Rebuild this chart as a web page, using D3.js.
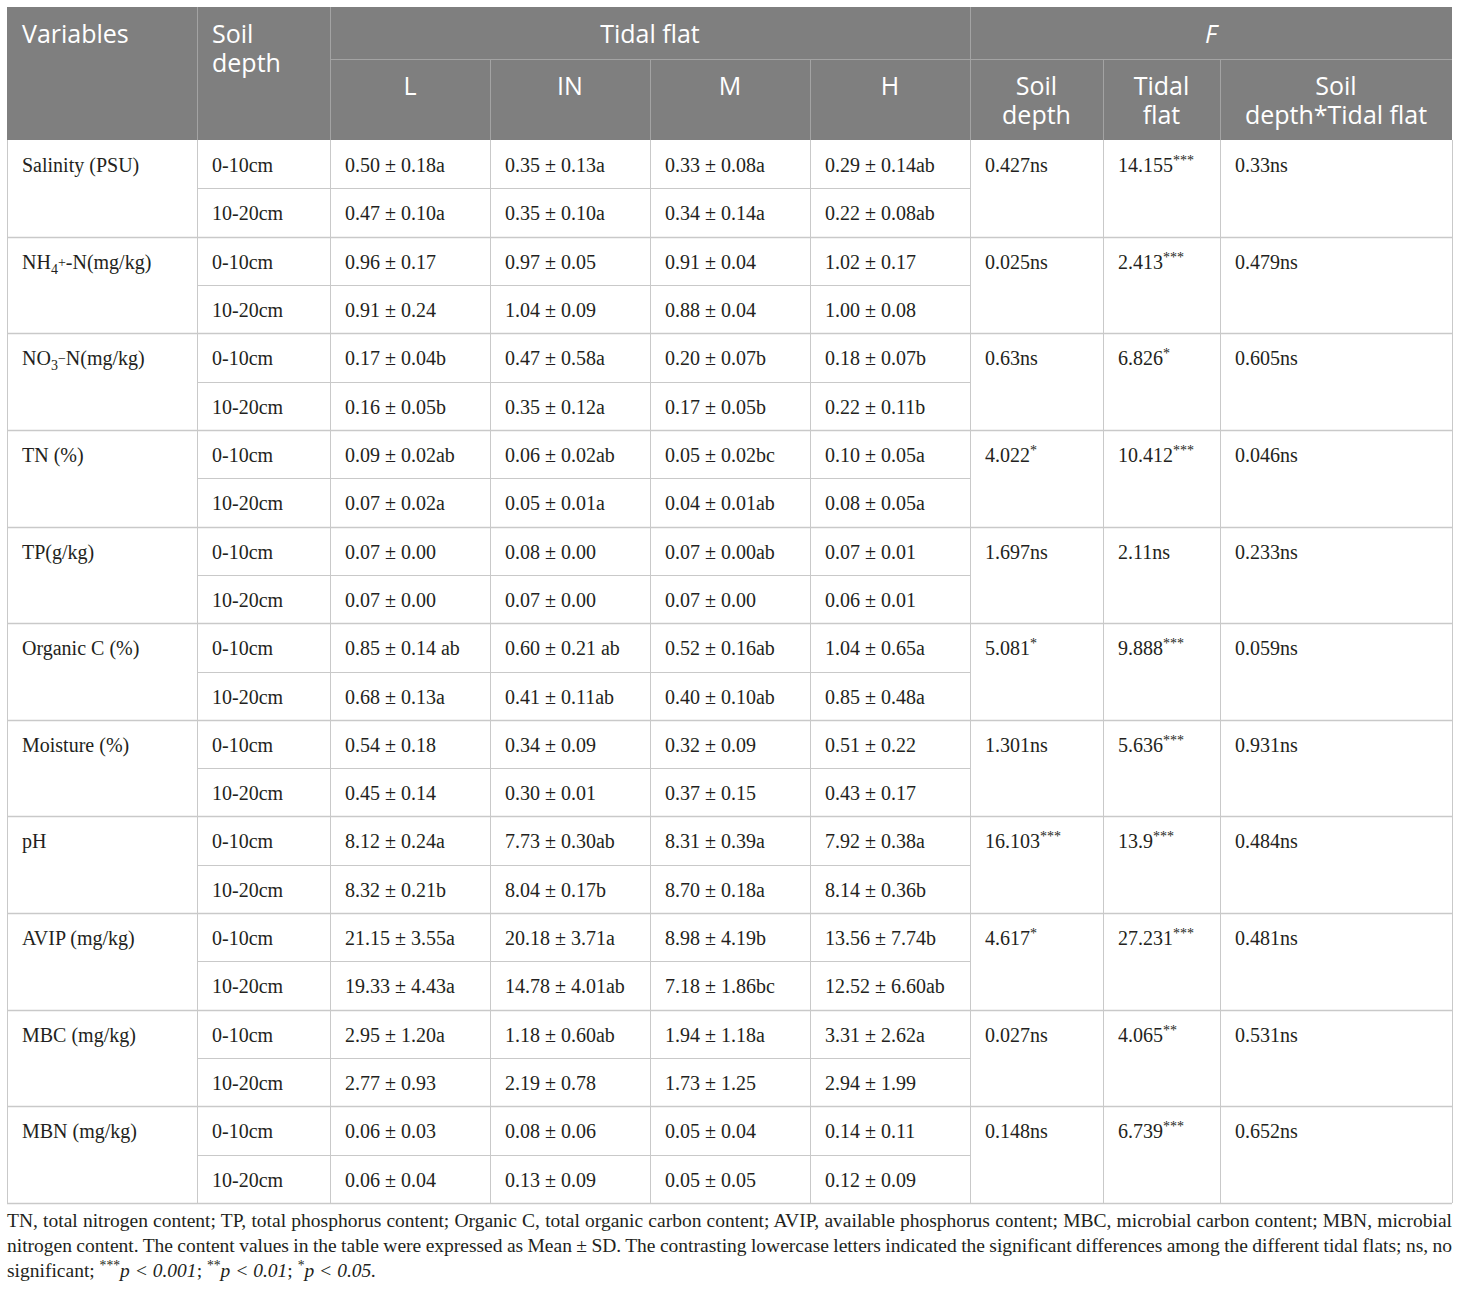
<!DOCTYPE html>
<html>
<head>
<meta charset="utf-8">
<script src="https://cdn.jsdelivr.net/npm/d3@7"></script>
<style>
  body { margin: 0; background: #fff; }
  svg { display: block; }
</style>
</head>
<body>
<div id="table"></div>
<script>
var variables = [
  [{t: "Salinity (PSU)"}],
  [{t: "NH"}, {t: "4", sub: true}, {t: "+", sup: true}, {t: "-N(mg/kg)"}],
  [{t: "NO"}, {t: "3", sub: true}, {t: "\u2212", sup: true}, {t: "N(mg/kg)"}],
  [{t: "TN (%)"}],
  [{t: "TP(g/kg)"}],
  [{t: "Organic C (%)"}],
  [{t: "Moisture (%)"}],
  [{t: "pH"}],
  [{t: "AVIP (mg/kg)"}],
  [{t: "MBC (mg/kg)"}],
  [{t: "MBN (mg/kg)"}]
];
var depths = ["0-10cm", "10-20cm"];
var flats = ["L", "IN", "M", "H"];

var valL = ["0.50 ± 0.18a", "0.47 ± 0.10a", "0.96 ± 0.17", "0.91 ± 0.24", "0.17 ± 0.04b", "0.16 ± 0.05b",
  "0.09 ± 0.02ab", "0.07 ± 0.02a", "0.07 ± 0.00", "0.07 ± 0.00", "0.85 ± 0.14 ab", "0.68 ± 0.13a",
  "0.54 ± 0.18", "0.45 ± 0.14", "8.12 ± 0.24a", "8.32 ± 0.21b", "21.15 ± 3.55a", "19.33 ± 4.43a",
  "2.95 ± 1.20a", "2.77 ± 0.93", "0.06 ± 0.03", "0.06 ± 0.04"];
var valIN = ["0.35 ± 0.13a", "0.35 ± 0.10a", "0.97 ± 0.05", "1.04 ± 0.09", "0.47 ± 0.58a", "0.35 ± 0.12a",
  "0.06 ± 0.02ab", "0.05 ± 0.01a", "0.08 ± 0.00", "0.07 ± 0.00", "0.60 ± 0.21 ab", "0.41 ± 0.11ab",
  "0.34 ± 0.09", "0.30 ± 0.01", "7.73 ± 0.30ab", "8.04 ± 0.17b", "20.18 ± 3.71a", "14.78 ± 4.01ab",
  "1.18 ± 0.60ab", "2.19 ± 0.78", "0.08 ± 0.06", "0.13 ± 0.09"];
var valM = ["0.33 ± 0.08a", "0.34 ± 0.14a", "0.91 ± 0.04", "0.88 ± 0.04", "0.20 ± 0.07b", "0.17 ± 0.05b",
  "0.05 ± 0.02bc", "0.04 ± 0.01ab", "0.07 ± 0.00ab", "0.07 ± 0.00", "0.52 ± 0.16ab", "0.40 ± 0.10ab",
  "0.32 ± 0.09", "0.37 ± 0.15", "8.31 ± 0.39a", "8.70 ± 0.18a", "8.98 ± 4.19b", "7.18 ± 1.86bc",
  "1.94 ± 1.18a", "1.73 ± 1.25", "0.05 ± 0.04", "0.05 ± 0.05"];
var valH = ["0.29 ± 0.14ab", "0.22 ± 0.08ab", "1.02 ± 0.17", "1.00 ± 0.08", "0.18 ± 0.07b", "0.22 ± 0.11b",
  "0.10 ± 0.05a", "0.08 ± 0.05a", "0.07 ± 0.01", "0.06 ± 0.01", "1.04 ± 0.65a", "0.85 ± 0.48a",
  "0.51 ± 0.22", "0.43 ± 0.17", "7.92 ± 0.38a", "8.14 ± 0.36b", "13.56 ± 7.74b", "12.52 ± 6.60ab",
  "3.31 ± 2.62a", "2.94 ± 1.99", "0.14 ± 0.11", "0.12 ± 0.09"];

// F values: [number, significance]
var fDepth = [["0.427", "ns"], ["0.025", "ns"], ["0.63", "ns"], ["4.022", "*"], ["1.697", "ns"], ["5.081", "*"],
  ["1.301", "ns"], ["16.103", "***"], ["4.617", "*"], ["0.027", "ns"], ["0.148", "ns"]];
var fFlat = [["14.155", "***"], ["2.413", "***"], ["6.826", "*"], ["10.412", "***"], ["2.11", "ns"], ["9.888", "***"],
  ["5.636", "***"], ["13.9", "***"], ["27.231", "***"], ["4.065", "**"], ["6.739", "***"]];
var fInter = [["0.33", "ns"], ["0.479", "ns"], ["0.605", "ns"], ["0.046", "ns"], ["0.233", "ns"], ["0.059", "ns"],
  ["0.931", "ns"], ["0.484", "ns"], ["0.481", "ns"], ["0.531", "ns"], ["0.652", "ns"]];

var footLines = [
  [{t: "TN, total nitrogen content; TP, total phosphorus content; Organic C, total organic carbon content; AVIP, available phosphorus content; MBC, microbial carbon content; MBN, microbial"}],
  [{t: "nitrogen content. The content values in the table were expressed as Mean ± SD. The contrasting lowercase letters indicated the significant differences among the different tidal flats; ns, no"}],
  [{t: "significant; "}, {t: "***", sup: true}, {t: "p < 0.001", it: true}, {t: "; "}, {t: "**", sup: true},
   {t: "p < 0.01", it: true}, {t: "; "}, {t: "*", sup: true}, {t: "p < 0.05.", it: true}]
];

// --- layout ---
var W = 1460, H = 1290;
var left = 7, right = 1452, top0 = 7, hdrMid = 59, bodyTop = 140, bodyBot = 1203;
var colEdges = [7, 197, 330, 490, 650, 810, 970, 1103, 1220, 1452];
var pad = 15;
var headGray = "#7f7f7f", lineCol = "#c9c9c9", hdrLine = "#a3a3a3";
var serif = "'Liberation Serif', 'Times New Roman', serif";
var sans = "'Open Sans', 'Noto Sans', sans-serif";

var svg = d3.select("#table").append("svg")
  .attr("width", W).attr("height", H);

var rowY = d3.scaleBand().domain(d3.range(22)).range([bodyTop, bodyBot]);
var groupY = d3.scaleBand().domain(d3.range(11)).range([bodyTop, bodyBot]);

// header background
svg.append("rect")
  .attr("x", left).attr("y", top0)
  .attr("width", right - left).attr("height", bodyTop - top0)
  .attr("fill", headGray);

// header lines
var hl = svg.append("g").attr("stroke", hdrLine).attr("stroke-width", 1);
hl.append("line").attr("x1", colEdges[2]).attr("x2", right).attr("y1", hdrMid + 0.5).attr("y2", hdrMid + 0.5);
[1, 2, 6].forEach(function(i) {
  hl.append("line").attr("x1", colEdges[i] + 0.5).attr("x2", colEdges[i] + 0.5).attr("y1", top0).attr("y2", bodyTop);
});
[3, 4, 5, 7, 8].forEach(function(i) {
  hl.append("line").attr("x1", colEdges[i] + 0.5).attr("x2", colEdges[i] + 0.5).attr("y1", hdrMid).attr("y2", bodyTop);
});

// header text
var ht = svg.append("g").attr("font-family", sans).attr("font-size", "25px").attr("fill", "#fff");
ht.append("text").attr("x", colEdges[0] + pad).attr("y", 43).text("Variables");
ht.append("text").attr("x", colEdges[1] + pad).attr("y", 43).text("Soil");
ht.append("text").attr("x", colEdges[1] + pad).attr("y", 72).text("depth");
ht.append("text").attr("x", (colEdges[2] + colEdges[6]) / 2).attr("y", 43)
  .attr("text-anchor", "middle").text("Tidal flat");
ht.append("text").attr("x", (colEdges[6] + colEdges[9]) / 2).attr("y", 43)
  .attr("text-anchor", "middle").attr("font-style", "italic").text("F");
flats.forEach(function(f, i) {
  ht.append("text").attr("x", (colEdges[2 + i] + colEdges[3 + i]) / 2).attr("y", 95)
    .attr("text-anchor", "middle").text(f);
});
var fHeads = [["Soil", "depth"], ["Tidal", "flat"], ["Soil", "depth*Tidal flat"]];
fHeads.forEach(function(h, i) {
  var cx = (colEdges[6 + i] + colEdges[7 + i]) / 2;
  ht.append("text").attr("x", cx).attr("y", 95).attr("text-anchor", "middle").text(h[0]);
  ht.append("text").attr("x", cx).attr("y", 124).attr("text-anchor", "middle").text(h[1]);
});

// body grid
var bl = svg.append("g").attr("stroke", lineCol).attr("fill", "none");
// sub-row lines (only across depth + tidal flat columns)
d3.range(11).forEach(function(g) {
  var y = Math.round(groupY(g) + groupY.bandwidth() / 2) + 0.5;
  bl.append("line").attr("x1", colEdges[1]).attr("x2", colEdges[6]).attr("y1", y).attr("y2", y)
    .attr("stroke-width", 1);
});
// group lines
d3.range(1, 11).forEach(function(g) {
  var y = Math.round(groupY(g)) + 0.5;
  bl.append("line").attr("x1", left).attr("x2", right).attr("y1", y).attr("y2", y)
    .attr("stroke-width", 1.5);
});
// verticals
colEdges.forEach(function(x, i) {
  bl.append("line").attr("x1", x + 0.5).attr("x2", x + 0.5).attr("y1", bodyTop).attr("y2", bodyBot)
    .attr("stroke-width", 1);
});
bl.append("line").attr("x1", left).attr("x2", right).attr("y1", bodyBot + 0.5).attr("y2", bodyBot + 0.5)
  .attr("stroke-width", 1.5);

// helper to write segmented text
function writeSegs(sel, segs, size) {
  segs.forEach(function(s) {
    var ts = sel.append("tspan").text(s.t);
    if (s.sub) ts.attr("font-size", size * 0.7 + "px").attr("dy", size * 0.25).attr("class", "sub");
    if (s.sup) ts.attr("font-size", size * 0.7 + "px").attr("dy", -size * 0.35).attr("class", "sup");
    if (s.it) ts.attr("font-style", "italic");
  });
  // reset baselines after sub/sup
  var shift = 0;
  sel.selectAll("tspan").each(function(d, i) {
    var el = d3.select(this);
    var dy = +el.attr("dy") || 0;
    if (i > 0 && !el.classed("sub") && !el.classed("sup") && shift !== 0) {
      el.attr("dy", -shift);
      shift = 0;
    } else {
      shift += dy;
    }
  });
}

var bodySize = 20;
var body = svg.append("g").attr("font-family", serif).attr("font-size", bodySize + "px").attr("fill", "#231f20");
var baseOff = 32;

// variable labels
variables.forEach(function(v, g) {
  var t = body.append("text").attr("x", colEdges[0] + pad).attr("y", groupY(g) + baseOff);
  writeSegs(t, v, bodySize);
});

// depth column
d3.range(22).forEach(function(r) {
  body.append("text").attr("x", colEdges[1] + pad).attr("y", rowY(r) + baseOff).text(depths[r % 2]);
});

// tidal flat values
[valL, valIN, valM, valH].forEach(function(col, c) {
  body.selectAll(null).data(col).enter().append("text")
    .attr("x", colEdges[2 + c] + pad)
    .attr("y", function(d, i) { return rowY(i) + baseOff; })
    .text(function(d) { return d; });
});

// F values
[fDepth, fFlat, fInter].forEach(function(col, c) {
  col.forEach(function(d, g) {
    var t = body.append("text").attr("x", colEdges[6 + c] + pad).attr("y", groupY(g) + baseOff);
    if (d[1] === "ns") {
      t.text(d[0] + "ns");
    } else {
      writeSegs(t, [{t: d[0]}, {t: d[1], sup: true}], bodySize);
    }
  });
});

// footnote, justified
var footSize = 19.5;
var foot = svg.append("g").attr("font-family", serif).attr("font-size", footSize + "px").attr("fill", "#231f20");
var footY = [1227, 1252, 1277];
footLines.forEach(function(segs, i) {
  var t = foot.append("text").attr("x", left).attr("y", footY[i]);
  writeSegs(t, segs, footSize);
  if (i < footLines.length - 1) {
    var full = segs.map(function(s) { return s.t; }).join("");
    var nSpaces = full.split(" ").length - 1;
    var w = t.node().getComputedTextLength();
    t.attr("word-spacing", ((right - left) - w) / nSpaces);
  }
});
</script>
</body>
</html>
